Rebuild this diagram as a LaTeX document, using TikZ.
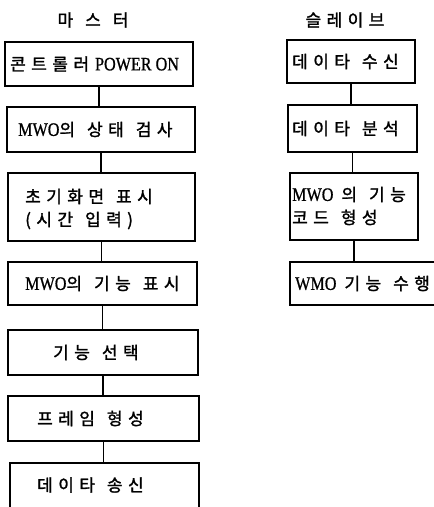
\documentclass[tikz,border=0pt]{standalone}
\usepackage{fontspec}
\setmainfont{Liberation Serif}
\newfontfamily\kr[LetterSpace=32,FakeBold=1.5]{Noto Sans CJK KR}
\newfontfamily\lt[FakeStretch=0.85,FakeBold=0.8]{Liberation Serif}
\newcommand{\wsp}{\hspace{12pt}}
\newcommand{\lat}[1]{{\lt\fontsize{19}{22}\selectfont #1}}
\begin{document}
\begin{tikzpicture}[x=1pt,y=-1pt,
  box/.style={draw,line width=1.2pt,inner sep=0pt,minimum width=#1},
  txt/.style={inner sep=0pt,font=\fontsize{17}{23}\selectfont,align=left},
  conn/.style={line width=1.2pt}]
\useasboundingbox (0,0) rectangle (434,507);
\begin{scope}
\clip (0,0) rectangle (434,507);
% titles
\node[txt] (tm) at (93,20) {\kr 마\hspace{12pt}스\hspace{12pt}터};
\node[txt] (ts) at (345,20) {\kr 슬레이브};
% master boxes
\node[box=188,minimum height=44] (m1) at (99,64) {};
\node[box=188,minimum height=45] (m2) at (101,129.5) {};
\node[box=187,minimum height=68] (m3) at (101.5,207) {};
\node[box=189,minimum height=43] (m4) at (102.5,283.5) {};
\node[box=190,minimum height=45] (m5) at (103,352.5) {};
\node[box=191,minimum height=45] (m6) at (103.5,418.5) {};
\node[box=189,minimum height=46] (m7) at (104.5,486) {};
% slave boxes
\node[box=128,minimum height=43] (s1) at (351,61.5) {};
\node[box=129,minimum height=47] (s2) at (352.5,128.5) {};
\node[box=128,minimum height=67] (s3) at (354,206.5) {};
\node[box=160,minimum height=43] (s4) at (370,283.5) {};
% texts
\node[txt,anchor=west] (x1) at (10,64) {{\kr 콘트롤러}\hspace{6pt}\lat{POWER ON}};
\node[txt,anchor=west] (x2) at (18,129.5) {\lat{MWO}{\kr 의\wsp 상태\wsp 검사}};
\node[txt,anchor=west] (x3) at (25,209) {{\kr 초기화면\wsp 표시}\\[0pt]{\kr (시간\wsp 입력)}};
\node[txt,anchor=west] (x4) at (25,283.5) {\lat{MWO}{\kr 의\wsp 기능\wsp 표시}};
\node[txt,anchor=west] (x5) at (53,352.5) {{\kr 기능\wsp 선택}};
\node[txt,anchor=west] (x6) at (37,418.5) {{\kr 프레임\wsp 형성}};
\node[txt,anchor=west] (x7) at (37,485) {{\kr 데이타\wsp 송신}};
\node[txt,anchor=west] (y1) at (292,61.5) {{\kr 데이타\wsp 수신}};
\node[txt,anchor=west] (y2) at (292,128.5) {{\kr 데이타\wsp 분석}};
\node[txt,anchor=west] (y3) at (292,206) {\lat{MWO}\hspace{8pt}{\kr 의\wsp 기능}\\[0pt]{\kr 코드\wsp 형성}};
\node[txt,anchor=west] (y4) at (295,283.5) {\lat{WMO}\hspace{8pt}{\kr 기능\wsp 수행}};
% connectors
\draw[conn] (m1.south) -- (m1.south |- m2.north);
\draw[conn] (m2.south) -- (m2.south |- m3.north);
\draw[conn] (m3.south) -- (m3.south |- m4.north);
\draw[conn] (m4.south) -- (m4.south |- m5.north);
\draw[conn] (m5.south) -- (m5.south |- m6.north);
\draw[conn] (m6.south) -- (m6.south |- m7.north);
\draw[conn] (s1.south) -- (s1.south |- s2.north);
\draw[conn] (s2.south) -- (s2.south |- s3.north);
\draw[conn] (s3.south) -- (s3.south |- s4.north);
\end{scope}
\end{tikzpicture}
\end{document}
